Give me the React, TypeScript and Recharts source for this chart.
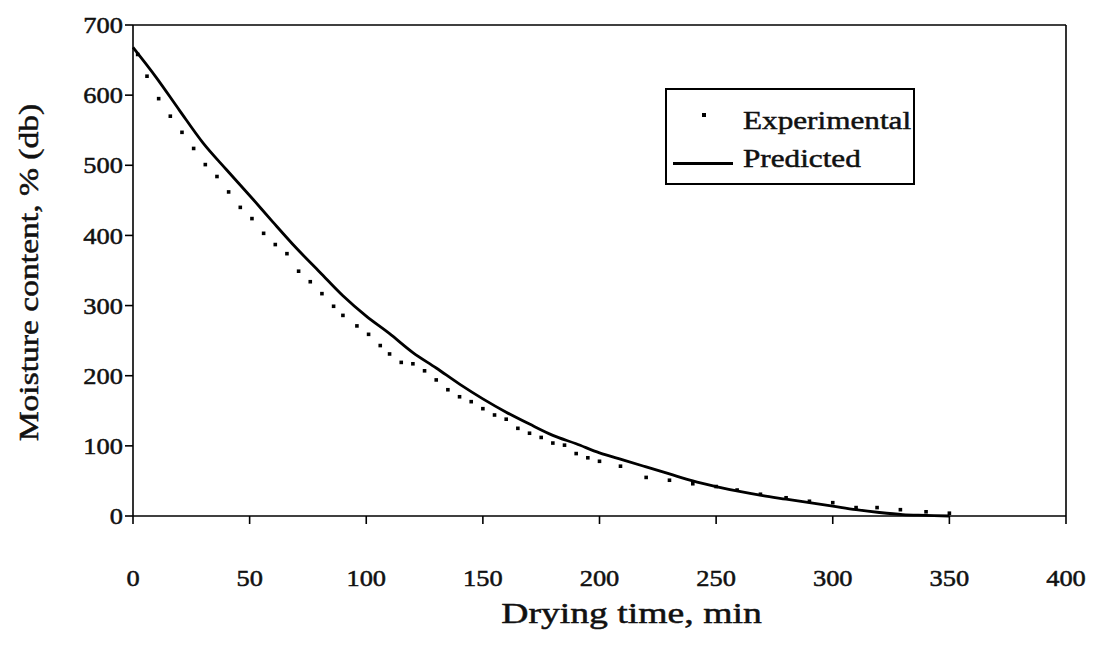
import {
  ComposedChart,
  Line,
  Scatter,
  XAxis,
  YAxis,
  ReferenceLine,
} from "recharts";

// experimental readings (drying time, min -> moisture content, % db)
const expTime = [
  2, 6, 11, 16, 21, 26, 31, 36, 41, 46, 51, 56, 61, 66, 71, 76, 81, 86, 90, 96,
  101, 106, 110, 115, 120, 125, 130, 135, 140, 145, 150, 155, 160, 165, 170, 175,
  180, 185, 190, 195, 200, 209, 220, 230, 240, 250, 259, 269, 280, 290, 300, 310,
  319, 329, 340, 350,
];
const expMoisture = [
  658, 627, 595, 570, 547, 524, 501, 484, 462, 440, 424, 403, 387, 374, 349, 334,
  317, 299, 286, 271, 259, 243, 231, 219, 217, 207, 194, 180, 170, 163, 153, 144,
  138, 125, 118, 112, 104, 101, 89, 83, 78, 71, 55, 51, 46, 42, 37, 31, 26, 21,
  19, 12, 12, 9, 6, 4,
];

// model curve
const predTime = [
  0, 10, 20, 30, 40, 50, 60, 70, 80, 90, 100, 110, 120, 130, 140, 150, 160, 170,
  180, 190, 200, 210, 220, 230, 240, 250, 260, 270, 280, 290, 300, 310, 320, 330,
  340, 350,
];
const predMoisture = [
  668, 625, 578, 532, 494, 457, 419, 382, 348, 314, 285, 260, 233, 211, 188, 167,
  148, 131, 115, 103, 90, 80, 70, 60, 50, 42, 35, 29, 24, 19, 14, 9, 5, 2, 1, 0,
];

const xTicks = [0, 50, 100, 150, 200, 250, 300, 350, 400];
const yTicks = [0, 100, 200, 300, 400, 500, 600, 700];

const FONT = '"Liberation Serif", "Times New Roman", serif';
const INK = "#111";

const experimental = expTime.map((t, i) => ({ t, m: expMoisture[i] }));
const predicted = predTime.map((t, i) => ({ t, m: predMoisture[i] }));

// scanned print looks heavier than a clean regular face
const textWeight = { stroke: INK, strokeWidth: 0.5 };

function XTick({ x, y, payload }: any) {
  return (
    <text
      transform={`translate(${x},${y}) scale(1.15,1)`}
      textAnchor="middle"
      dy="0.71em"
      fontFamily={FONT}
      fontSize={23}
      fill={INK}
      {...textWeight}
    >
      {payload.value}
    </text>
  );
}

function YTick({ x, y, payload }: any) {
  return (
    <text
      transform={`translate(${x},${y}) scale(1.15,1)`}
      textAnchor="end"
      dy="0.355em"
      fontFamily={FONT}
      fontSize={23}
      fill={INK}
      {...textWeight}
    >
      {payload.value}
    </text>
  );
}

function XTitle({ viewBox }: any) {
  const cx = viewBox.x + viewBox.width / 2 + 32;
  return (
    <text
      transform={`translate(${cx},${viewBox.y + 107}) scale(1.3,1)`}
      textAnchor="middle"
      fontFamily={FONT}
      fontSize={29}
      fill={INK}
      {...textWeight}
    >
      Drying time, min
    </text>
  );
}

function YTitle({ viewBox }: any) {
  const cy = viewBox.y + viewBox.height / 2 + 2;
  return (
    <text
      transform={`translate(38,${cy}) rotate(-90) scale(1.2,1)`}
      textAnchor="middle"
      fontFamily={FONT}
      fontSize={28}
      fill={INK}
      {...textWeight}
    >
      Moisture content, % (db)
    </text>
  );
}

function Dot(props: any) {
  return <rect x={props.cx - 1.8} y={props.cy - 1.8} width={3.6} height={3.6} fill="#000" />;
}

function LegendBox() {
  const label = {
    position: "absolute" as const,
    left: 76,
    transform: "scale(1.2,1)",
    transformOrigin: "left center",
    whiteSpace: "nowrap" as const,
    lineHeight: "30px",
    WebkitTextStroke: "0.5px #111",
  };
  return (
    <div
      style={{
        position: "absolute",
        left: 665,
        top: 88,
        width: 250,
        height: 97,
        boxSizing: "border-box",
        border: "2px solid #000",
        background: "#fff",
        fontFamily: FONT,
        fontSize: 26,
        color: INK,
      }}
    >
      <span
        style={{ position: "absolute", left: 35, top: 23, width: 3.5, height: 3.5, background: "#000" }}
      />
      <span style={{ ...label, top: 16 }}>Experimental</span>
      <span
        style={{ position: "absolute", left: 6, top: 72, width: 60, height: 2.5, background: "#000" }}
      />
      <span style={{ ...label, top: 54 }}>Predicted</span>
    </div>
  );
}

export default function App() {
  return (
    <div
      style={{ position: "fixed", left: 0, top: 0, width: 1094, height: 648, background: "#fff" }}
    >
      <ComposedChart
        width={1094}
        height={648}
        margin={{ top: 25, right: 28, left: 0, bottom: 0 }}
      >
        <XAxis
          type="number"
          dataKey="t"
          domain={[0, 400]}
          ticks={xTicks}
          height={132}
          tickSize={8}
          tickMargin={46}
          stroke="#000"
          strokeWidth={1.6}
          tick={<XTick />}
          label={<XTitle />}
        />
        <YAxis
          type="number"
          dataKey="m"
          domain={[0, 700]}
          ticks={yTicks}
          width={133}
          tickSize={8}
          tickMargin={2}
          stroke="#000"
          strokeWidth={1.6}
          tick={<YTick />}
          label={<YTitle />}
        />
        <ReferenceLine y={700} stroke="#000" strokeWidth={1.6} />
        <ReferenceLine x={400} stroke="#000" strokeWidth={1.6} />
        <Scatter
          name="Experimental"
          data={experimental}
          shape={<Dot />}
          isAnimationActive={false}
        />
        <Line
          name="Predicted"
          data={predicted}
          dataKey="m"
          type="monotone"
          stroke="#000"
          strokeWidth={2.8}
          dot={false}
          activeDot={false}
          isAnimationActive={false}
        />
      </ComposedChart>
      <LegendBox />
    </div>
  );
}
